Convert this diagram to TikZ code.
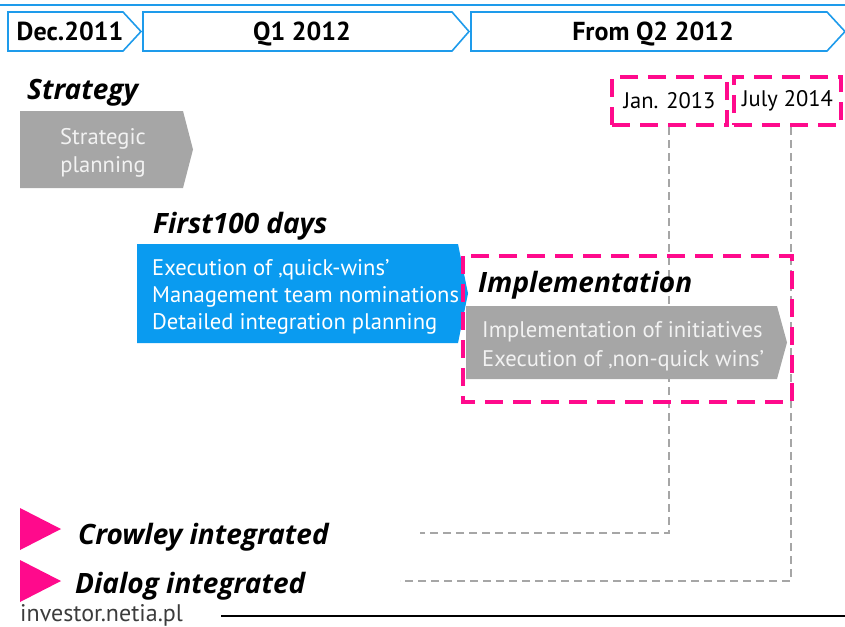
\documentclass[tikz,border=0pt]{standalone}
\usepackage{fontspec}
\setmainfont{PT Sans}
\newfontfamily\headfont{Open Sans}
\begin{document}
\definecolor{topblue}{RGB}{30,155,235}
\definecolor{boxblue}{RGB}{10,155,240}
\definecolor{boxgray}{RGB}{166,166,166}
\definecolor{boxtext}{RGB}{242,242,242}
\definecolor{hotpink}{RGB}{255,10,140}
\definecolor{linegray}{RGB}{166,166,166}
\begin{tikzpicture}[x=1pt,y=-1pt,
  heading/.style={font=\headfont\fontsize{28}{28}\selectfont\bfseries\itshape, anchor=base west, inner sep=0pt},
  chevtext/.style={font=\fontsize{26}{26}\selectfont\bfseries, anchor=base, inner sep=0pt},
  boxline/.style={font=\fontsize{22.6}{22.6}\selectfont, text=boxtext, anchor=base west, inner sep=0pt},
  datebox/.style={draw=hotpink, line width=4pt, dash pattern=on 18pt off 10pt, minimum height=48pt, inner sep=0pt, font=\fontsize{22.5}{22.5}\selectfont},
  chevron/.style={draw=topblue, line width=1.6pt, fill=white},
  guide/.style={draw=linegray, line width=1.6pt, dash pattern=on 8pt off 5pt},
  marker/.style={fill=hotpink}
]
\useasboundingbox (0,0) rectangle (845,626);

% timeline header
\draw[topblue, line width=2pt] (0,5) -- (845,5);
\draw[chevron] (8,12) -- (123,12) -- (141,31.5) -- (123,51) -- (8,51) -- cycle;
\draw[chevron] (143,12) -- (452,12) -- (469,31.5) -- (452,51) -- (143,51) -- cycle;
\draw[chevron] (471,12) -- (827,12) -- (845,31.5) -- (827,51) -- (471,51) -- cycle;
\node[chevtext] (dec) at (70,41) {Dec.2011};
\node[chevtext] (q1) at (302,41) {Q1 2012};
\node[chevtext] (q2) at (653,41) {From Q2 2012};

% milestone dates
\node[datebox, minimum width=115pt] (jan) at (669.5,101) {Jan. 2013};
\node[datebox, minimum width=107pt] (july) at (787.5,101) {July 2014};

% milestone leaders
\coordinate (crowend) at (420,533);
\coordinate (dialend) at (400,581);
\draw[guide] (jan.south -| 669,0) |- (crowend);
\draw[guide] (july.south -| 791,0) |- (dialend);

% strategy phase
\node[heading] (strat) at (27,99) {Strategy};
\fill[boxgray] (20,111) -- (183,111) -- (193,149.5) -- (183,188) -- (20,188) -- cycle;
\node[boxline, anchor=base] (sp1) at (103,144) {Strategic};
\node[boxline, anchor=base] (sp2) at (103,172) {planning};

% first 100 days phase
\node[heading] (first) at (153,233) {First100 days};
\fill[boxblue] (137,244) -- (458,244) -- (468,293.5) -- (458,343) -- (137,343) -- cycle;
\node[boxline, text=white] (f1) at (152,275) {Execution of ‚quick-wins’};
\node[boxline, text=white] (f2) at (152,302) {Management team nominations};
\node[boxline, text=white] (f3) at (152,329) {Detailed integration planning};

% implementation phase
\node[heading] (impl) at (478,292) {Implementation};
\fill[boxgray] (466,306) -- (777,306) -- (787,342.5) -- (777,379) -- (466,379) -- cycle;
\node[boxline] (i1) at (482,337) {Implementation of initiatives};
\node[boxline] (i2) at (482,366) {Execution of ‚non-quick wins’};
\draw[draw=hotpink, line width=4pt, dash pattern=on 18pt off 10pt] (463,256) rectangle (792,402);

% integration milestones
\fill[marker] (20,508) -- (61,529) -- (20,550) -- cycle;
\node[heading] (crow) at (78,544) {Crowley integrated};
\fill[marker] (20,560) -- (61,581) -- (20,602) -- cycle;
\node[heading] (dial) at (75,593) {Dialog integrated};

% footer
\node[font=\fontsize{24}{24}\selectfont, text={rgb,255:red,60;green,60;blue,60}, anchor=base west, inner sep=0pt] (site) at (20,621) {investor.netia.pl};
\draw[black, line width=1.2pt] (221,616) -- (845,616);
\end{tikzpicture}
\end{document}
